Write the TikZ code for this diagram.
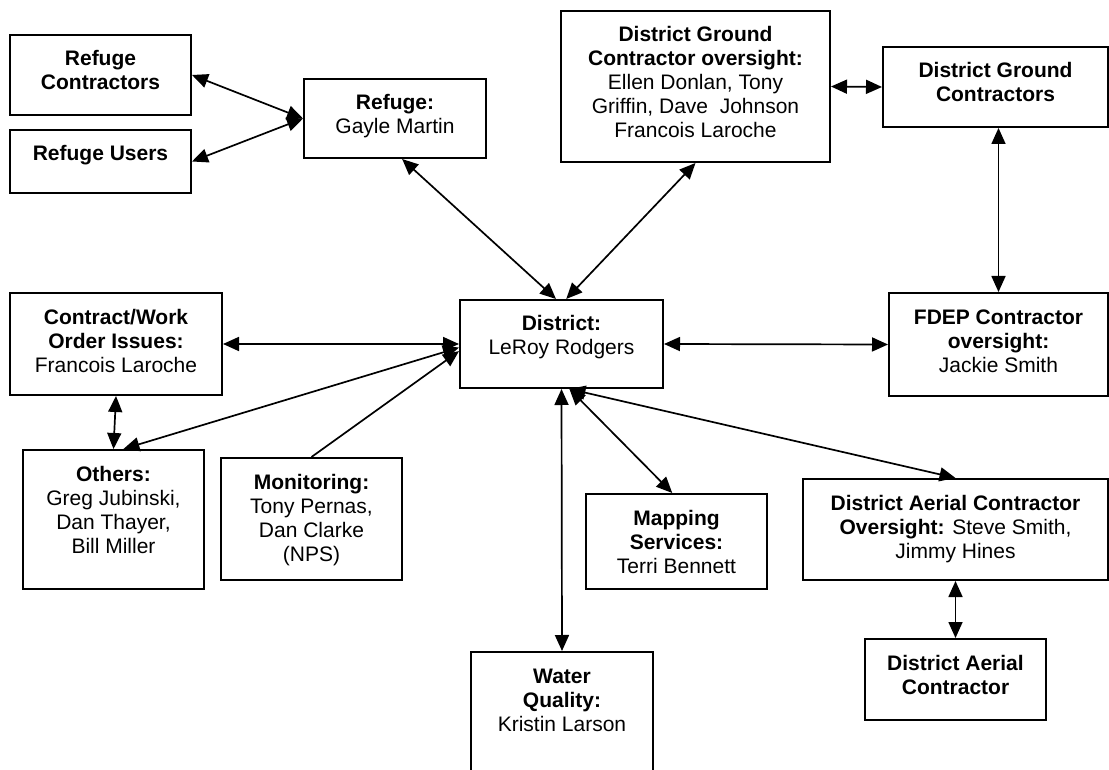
\documentclass[tikz,border=0pt]{standalone}
\usepackage{fontspec}
\setmainfont{Liberation Sans}
\usetikzlibrary{arrows.meta}

\begin{document}
\begin{tikzpicture}[x=0.5pt,y=-0.5pt,
    >={Triangle[length=8pt,width=7pt]},
    box/.style={draw,line width=1pt,anchor=north,align=center,
      inner xsep=2pt,inner ysep=8pt,
      font=\fontsize{10.5}{12}\selectfont},
    link/.style={<->,line width=0.85pt}]
        \useasboundingbox (0,0) rectangle (1109,770);
        \clip (0,0) rectangle (1109,770);
        % refuge side
        \node[box,minimum width=90.5pt,text height=19.5pt,text depth=4.5pt] (rc) at (100.5,34) {\textbf{Refuge}\\\textbf{Contractors}};
        \node[box,minimum width=90.5pt,text height=7.5pt,text depth=8pt] (ru) at (100.5,129) {\textbf{Refuge Users}};
        \node[box,minimum width=91pt,text height=19.5pt,text depth=4pt] (refuge) at (395,78) {\textbf{Refuge:}\\Gayle Martin};
        % ground contractors
        \node[box,minimum width=134.5pt,text height=55.5pt,text depth=4pt] (dgco) at (695.5,10) {\textbf{District Ground}\\\textbf{Contractor oversight:}\\Ellen Donlan, Tony\\Griffin, Dave\ \ Johnson\\Francois Laroche};
        \node[box,minimum width=112.5pt,text height=19.5pt,text depth=4.5pt] (dgc) at (995.5,46) {\textbf{District Ground}\\\textbf{Contractors}};
        % middle row
        \node[box,minimum width=106pt,text height=31.5pt,text depth=3.5pt] (cw) at (116,292) {\textbf{Contract/Work}\\\textbf{Order Issues:}\\Francois Laroche};
        \node[box,minimum width=101.5pt,text height=19.5pt,text depth=8.5pt] (district) at (561.5,299) {\textbf{District:}\\LeRoy Rodgers};
        \node[box,minimum width=109.5pt,text height=31.5pt,text depth=4pt] (fdep) at (998.5,292) {\textbf{FDEP Contractor}\\\textbf{oversight:}\\Jackie Smith};
        % lower row
        \node[box,minimum width=90.5pt,text height=43.5pt,text depth=10pt] (others) at (113.5,449) {\textbf{Others:}\\Greg Jubinski,\\Dan Thayer,\\Bill Miller};
        \node[box,minimum width=90.5pt,text height=43.5pt,text depth=1.5pt] (monitor) at (311.5,457) {\textbf{Monitoring:}\\Tony Pernas,\\Dan Clarke\\(NPS)};
        \node[box,minimum width=90.5pt,text height=31.5pt,text depth=0pt] (mapping) at (676.5,493) {\textbf{Mapping}\\\textbf{Services:}\\Terri Bennett};
        \node[box,minimum width=152.5pt,text height=31.5pt,text depth=3pt] (daco) at (955.5,478) {\textbf{District Aerial Contractor}\\\textbf{Oversight:} Steve Smith,\\Jimmy Hines};
        \node[box,minimum width=90.5pt,text height=19.5pt,text depth=5pt] (dac) at (955.5,638) {\textbf{District Aerial}\\\textbf{Contractor}};
        \node[box,minimum width=91pt,text height=31.5pt,text depth=32.5pt] (wq) at (562,651) {\textbf{Water}\\\textbf{Quality:}\\Kristin Larson};
        % connectors
        \draw[link] (rc.east) -- (refuge.west);
        \draw[link] (ru.east) -- (refuge.west);
        \draw[link] (refuge.-80) -- (district.97);
        \draw[link] (dgco.south) -- (district.84);
        \draw[link] (dgco.east) -- (dgc.west);
        \draw[link] (dgc.south -| fdep.north) -- (fdep.north);
        \draw[link] (cw.east) -- (district.west);
        \draw[link] (district.east) -- (fdep.west);
        \draw[link] (cw.south) -- (others.north);
        \draw[link] (district.182) -- (others.82);
        \draw[->,line width=0.85pt] (monitor.north) -- (district.184);
        \draw[link] (district.south) -- (wq.north);
        \draw[link] (district.-80) -- (mapping.95);
        \draw[link] (district.-80) -- (daco.north);
        \draw[link] (daco.south) -- (dac.north);
      \end{tikzpicture}
\end{document}
